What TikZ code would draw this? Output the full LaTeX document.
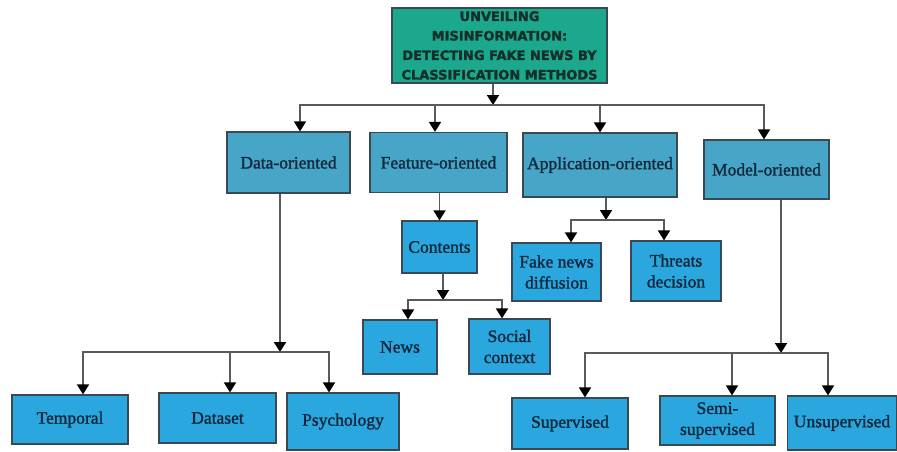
\documentclass[tikz,border=0pt]{standalone}
\usepackage{fontspec}
\setmainfont{Liberation Serif}[UprightFeatures={FakeBold=1.5}]
\newfontfamily\titlefont{DejaVu Sans}[BoldFeatures={FakeBold=2}]
\usetikzlibrary{arrows.meta,positioning}
\definecolor{titlegreen}{HTML}{1BA88C}
\definecolor{titletext}{HTML}{15302B}
\definecolor{midblue}{HTML}{47A6C8}
\definecolor{leafblue}{HTML}{2AA7DF}
\definecolor{boxline}{HTML}{3A4852}
\definecolor{boxtext}{HTML}{12283C}
\definecolor{wire}{HTML}{5A5A5A}
\tikzset{
  basic/.style   = {draw=boxline, line width=1.2pt, rectangle, inner sep=2pt,
                    align=center, text=boxtext, font=\fontsize{17.5}{21}\selectfont},
  root/.style    = {basic, fill=titlegreen, text=titletext,
                    font=\titlefont\bfseries\fontsize{13}{19.5}\selectfont},
  level 2/.style = {basic, fill=midblue},
  level 3/.style = {basic, fill=leafblue},
  link/.style    = {draw=wire, line width=1.8pt,
                    -{Triangle[width=12pt,length=10pt,color=black]}}
}
\begin{document}
\begin{tikzpicture}[x=1pt, y=-1pt]
	\useasboundingbox (0,0) rectangle (897,451);
	
	% title of the tree, level 1
	\node[root, minimum width=215, minimum height=75] (title) at (499.5,45.5)
	{UNVEILING\\MISINFORMATION:\\DETECTING FAKE NEWS BY\\CLASSIFICATION METHODS};
	
	% the second level, one box per orientation
	\begin{scope}[every node/.style={level 2}]
	\node[minimum width=123, minimum height=61] (data) at (288.5,162.5) {Data-oriented};
	\node[minimum width=137, minimum height=60] (feature) at (438.5,162.5) {Feature-oriented};
	\node[minimum width=154, minimum height=64] (app) at (600,165) {Application-oriented};
	\node[minimum width=125, minimum height=59] (model) at (766.5,169.5) {Model-oriented};
	\end{scope}
	
	% the third level and the leaves
	\begin{scope}[every node/.style={level 3}]
	\node[minimum width=75, minimum height=52] (contents) at (439.5,247) {Contents};
	\node[minimum width=74, minimum height=54] (news) at (400,347) {News};
	\node[minimum width=81, minimum height=55] (social) at (509.5,346.5) {Social\\context};
	\node[minimum width=89, minimum height=58] (fake) at (556.5,272) {Fake news\\diffusion};
	\node[minimum width=90, minimum height=60] (threats) at (676,271) {Threats\\decision};
	\node[minimum width=116, minimum height=49] (temporal) at (70,419.5) {Temporal};
	\node[minimum width=117, minimum height=50] (dataset) at (217.5,418) {Dataset};
	\node[minimum width=112, minimum height=57] (psych) at (343,421.5) {Psychology};
	\node[minimum width=116, minimum height=51] (supervised) at (570,423.5) {Supervised};
	\node[minimum width=115, minimum height=49] (semi) at (717.5,420.5) {Semi-\\supervised};
	\node[minimum width=109, minimum height=54] (unsup) at (842,423) {Unsupervised};
	\end{scope}
	
	% junctions of the bars
	\coordinate (j1) at (493,105);
	\coordinate (j2) at (280,352);
	\coordinate (j3) at (443,300);
	\coordinate (j4) at (606,220);
	\coordinate (j5) at (781,353);
	
	% lines from each parent to its bar, then to every one of its children
	\draw[link] ([xshift=-6.5pt]title.south) -- (j1);
	\foreach \n/\s in {data/11.5,feature/-3.5,app/0,model/-2.5}
	  \draw[link] (j1) -| ([xshift=\s pt]\n.north);
	
	\draw[link] (contents.north |- feature.south) -- (contents.north);
	
	\draw[link] (data.south -| j2) -- (j2);
	\foreach \n/\s in {temporal/13,dataset/12.5,psych/-14}
	  \draw[link] (j2) -| ([xshift=\s pt]\n.north);
	
	\draw[link] (contents.south -| j3) -- (j3);
	\foreach \n/\s in {news/8,social/-7.5}
	  \draw[link] (j3) -| ([xshift=\s pt]\n.north);
	
	\draw[link] (app.south -| j4) -- (j4);
	\foreach \n/\s in {fake/14.5,threats/-12}
	  \draw[link] (j4) -| ([xshift=\s pt]\n.north);
	
	\draw[link] (model.south -| j5) -- (j5);
	\foreach \n/\s in {supervised/15,semi/14.5,unsup/-14}
	  \draw[link] (j5) -| ([xshift=\s pt]\n.north);
	
\end{tikzpicture}
\end{document}
